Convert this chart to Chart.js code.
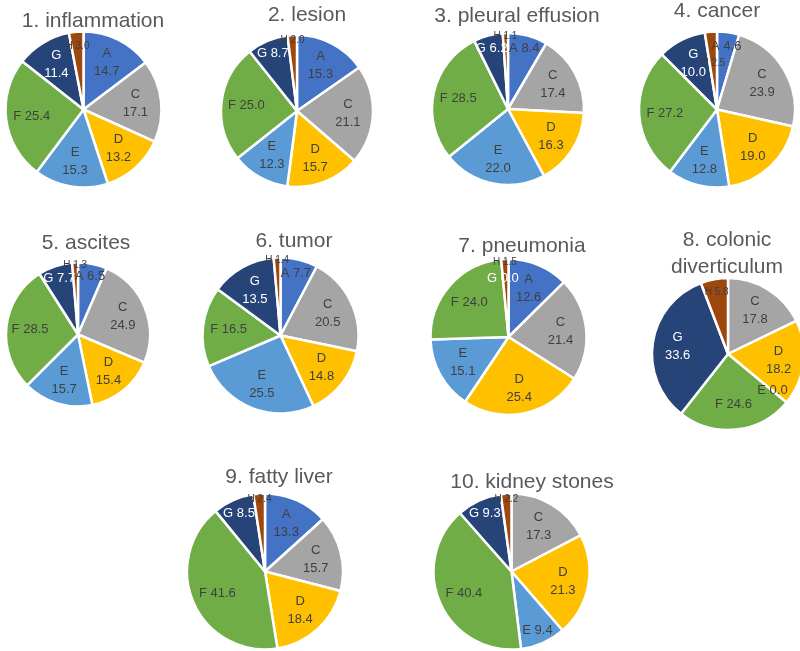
<!DOCTYPE html>
<html>
<head>
<meta charset="utf-8">
<script src="https://cdn.jsdelivr.net/npm/chart.js@4/dist/chart.umd.min.js"></script>
<style>
  html, body { margin: 0; padding: 0; background: #ffffff; }
  #wrap { position: relative; width: 800px; height: 651px; overflow: hidden; background: #ffffff; }
  #wrap canvas { position: absolute; left: 0; top: 0; }
</style>
</head>
<body>
<div id="wrap"></div>
<script>
// Categories shared by every pie (share of reports, %)
const categories = ['A', 'C', 'D', 'E', 'F', 'G', 'H'];

// Pie titles (one entry per line)
const titles = [
  ['1. inflammation'],
  ['2. lesion'],
  ['3. pleural effusion'],
  ['4. cancer'],
  ['5. ascites'],
  ['6. tumor'],
  ['7. pneumonia'],
  ['8. colonic', 'diverticulum'],
  ['9. fatty liver'],
  ['10. kidney stones']
];

// Values per finding, in category order A, C, D, E, F, G, H (null = category absent)
const inflammation       = [14.7, 17.1, 13.2, 15.3, 25.4, 11.4, 3.0];
const lesion             = [15.3, 21.1, 15.7, 12.3, 25.0,  8.7, 2.0];
const pleuralEffusion    = [ 8.4, 17.4, 16.3, 22.0, 28.5,  6.2, 1.1];
const cancer             = [ 4.6, 23.9, 19.0, 12.8, 27.2, 10.0, 2.5];
const ascites            = [ 6.5, 24.9, 15.4, 15.7, 28.5,  7.7, 1.3];
const tumor              = [ 7.7, 20.5, 14.8, 25.5, 16.5, 13.5, 1.4];
const pneumonia          = [12.6, 21.4, 25.4, 15.1, 24.0,  0.0, 1.5];
const colonicDivert      = [null, 17.8, 18.2,  0.0, 24.6, 33.6, 5.8];
const fattyLiver         = [13.3, 15.7, 18.4, null, 41.6,  8.5, 2.4];
const kidneyStones       = [null, 17.3, 21.3,  9.4, 40.4,  9.3, 2.2];

const seriesValues = [inflammation, lesion, pleuralEffusion, cancer, ascites,
                      tumor, pneumonia, colonicDivert, fattyLiver, kidneyStones];

// Slice colours per category
const sliceColors = ['#4472C4', '#A5A5A5', '#FFC000', '#5B9BD5', '#70AD47', '#264478', '#9E480E'];

// Placement of each pie on the page: centre, radius, title anchor (baseline of first line)
const panels = [
  { cx: 83.5,  cy: 109.5, r: 78, tx: 93,  ty: 27 },
  { cx: 297,   cy: 111,   r: 76, tx: 307, ty: 21 },
  { cx: 508,   cy: 109,   r: 76, tx: 517, ty: 22 },
  { cx: 717,   cy: 109.5, r: 78, tx: 717, ty: 17 },
  { cx: 78,    cy: 334.5, r: 72, tx: 86,  ty: 249 },
  { cx: 280.5, cy: 335.5, r: 78, tx: 294, ty: 247 },
  { cx: 508.5, cy: 337,   r: 78, tx: 522, ty: 252 },
  { cx: 728,   cy: 354,   r: 76, tx: 727, ty: 246 },
  { cx: 265,   cy: 571.5, r: 78, tx: 279, ty: 483 },
  { cx: 511.5, cy: 571.5, r: 78, tx: 532, ty: 488 }
];

const FONT = '"Liberation Sans", Arial, sans-serif';
const W = 800, H = 651;

// Title drawn above each pie
const pieTitle = {
  id: 'pieTitle',
  afterDraw(chart, args, opts) {
    const ctx = chart.ctx;
    ctx.save();
    ctx.fillStyle = '#595959';
    ctx.font = '21px ' + FONT;
    ctx.textAlign = 'center';
    ctx.textBaseline = 'alphabetic';
    opts.lines.forEach((line, k) => ctx.fillText(line, opts.x, opts.y + k * 27));
    ctx.restore();
  }
};

// Category + value labels inside the slices
const sliceLabels = {
  id: 'sliceLabels',
  afterDatasetsDraw(chart) {
    const ctx = chart.ctx;
    const meta = chart.getDatasetMeta(0);
    const data = chart.data.datasets[0].data;
    const placed = [];
    ctx.save();
    ctx.textAlign = 'center';
    ctx.textBaseline = 'middle';
    meta.data.forEach((arc, i) => {
      const v = data[i];
      if (v === null || v === undefined) return;
      const cat = chart.data.labels[i];
      const p = arc.getProps(['x', 'y', 'startAngle', 'endAngle', 'outerRadius'], true);
      const mid = (p.startAngle + p.endAngle) / 2;
      const valTxt = v.toFixed(1);
      const size = cat === 'H' ? 10 : 13;
      const lines = (v < 10 || cat === 'F') ? [cat + ' ' + valTxt] : [cat, valTxt];
      const lh = 18;
      ctx.font = size + 'px ' + FONT;
      const w = Math.max(...lines.map(l => ctx.measureText(l).width));
      const bh = lines.length === 1 ? size : 2 * size + 4;
      // thin slices get their label pushed towards the rim
      let f;
      if (v === 0) f = 0.76;
      else if (v < 2) f = 0.96;
      else if (v < 3) f = 0.93;
      else if (v < 10) f = 0.82;
      else f = 0.67;
      const boxAt = k => {
        const px = p.x + Math.cos(mid) * p.outerRadius * k;
        const py = p.y + Math.sin(mid) * p.outerRadius * k;
        return { px, py, l: px - w / 2, r: px + w / 2, t: py - bh / 2, b: py + bh / 2 };
      };
      let box = boxAt(f);
      if (v > 0 && v < 3) {
        const hit = placed.some(o =>
          Math.min(o.r, box.r) - Math.max(o.l, box.l) > 1.5 &&
          Math.min(o.b, box.b) - Math.max(o.t, box.t) > 1.5);
        if (hit) box = boxAt(0.6);
      }
      placed.push(box);
      ctx.fillStyle = cat === 'G' ? '#ffffff' : '#404040';
      const y0 = box.py - (lines.length - 1) * lh / 2;
      lines.forEach((l, k) => ctx.fillText(l, box.px, y0 + k * lh));
    });
    ctx.restore();
  }
};

const wrap = document.getElementById('wrap');

seriesValues.forEach((values, idx) => {
  const pnl = panels[idx];
  const canvas = document.createElement('canvas');
  canvas.width = W;
  canvas.height = H;
  canvas.style.width = W + 'px';
  canvas.style.height = H + 'px';
  wrap.appendChild(canvas);

  const half = 20;
  new Chart(canvas, {
    type: 'pie',
    data: {
      labels: categories,
      datasets: [{
        data: values,
        backgroundColor: sliceColors,
        borderColor: '#ffffff',
        borderWidth: 2.5,
        radius: pnl.r,
        clip: false
      }]
    },
    options: {
      responsive: false,
      animation: false,
      events: [],
      layout: {
        padding: {
          left: pnl.cx - half,
          right: W - pnl.cx - half,
          top: pnl.cy - half,
          bottom: H - pnl.cy - half
        }
      },
      plugins: {
        legend: { display: false },
        tooltip: { enabled: false },
        title: { display: false },
        pieTitle: { lines: titles[idx], x: pnl.tx, y: pnl.ty }
      }
    },
    plugins: [pieTitle, sliceLabels]
  });
});
</script>
</body>
</html>
